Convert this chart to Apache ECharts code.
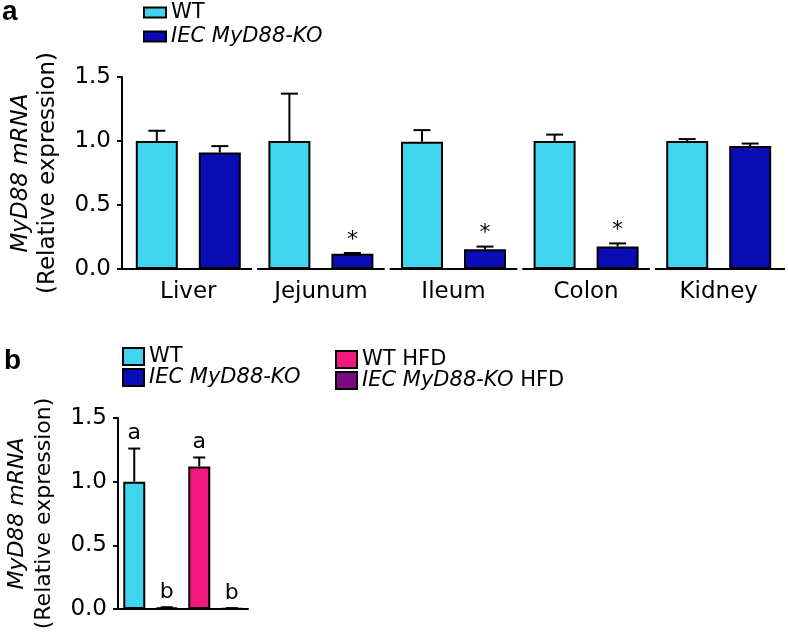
<!DOCTYPE html>
<html><head><meta charset="utf-8">
<script src="https://cdn.jsdelivr.net/npm/echarts@6/dist/echarts.min.js"></script>
<style>html,body{margin:0;padding:0;background:#fff}#c{width:788px;height:636px}</style>
</head><body><div id="c"></div>
<script>
// ---- data ----
const tissues = ['Liver', 'Jejunum', 'Ileum', 'Colon', 'Kidney'];
const wtA = [1.00, 1.00, 0.995, 1.00, 1.00];
const wtErrA = [0.08, 0.37, 0.09, 0.05, 0.015];
const koA = [0.91, 0.12, 0.155, 0.175, 0.96];
const koErrA = [0.05, 0.005, 0.02, 0.025, 0.02];
const sigA = ['', '*', '*', '*', ''];
const groupsB = ['WT', 'IEC MyD88-KO', 'WT HFD', 'IEC MyD88-KO HFD'];
const valuesB = [1.00, 0.01, 1.12, 0.005];
const errB = [0.26, 0.004, 0.07, 0.002];
const lettersB = ['a', 'b', 'a', 'b'];
const yMin = 0, yMax = 1.5, yStep = 0.5;

// ---- style ----
const FONT = '"DejaVu Sans", Verdana, sans-serif';
const FONT_B = '"Liberation Sans", Arial, Helvetica, sans-serif';
const COLORS = {'WT': '#3fd5ee', 'IEC MyD88-KO': '#0a0cb5', 'WT HFD': '#f2187f', 'IEC MyD88-KO HFD': '#7a0a82'};
const BAR_A = 42, GAP_A = 21, BAR_B = 22;

const chart = echarts.init(document.getElementById('c'), null, {renderer: 'canvas'});

function errRenderer(offset, capW, labels, labelFont, labelGap) {
  return function (params, api) {
    const c = api.value(0), v = api.value(1), e = api.value(2);
    const base = api.coord([c, v]);
    const top = api.coord([c, v + e]);
    const x = base[0] + offset;
    const ch = [
      {type: 'line', shape: {x1: x, y1: base[1], x2: x, y2: top[1]}, style: {stroke: '#000', lineWidth: 2}},
      {type: 'line', shape: {x1: x - capW / 2, y1: top[1], x2: x + capW / 2, y2: top[1]}, style: {stroke: '#000', lineWidth: 2}}
    ];
    const t = labels[params.dataIndex];
    if (t) {
      ch.push({type: 'text', x: x, y: top[1] - labelGap, style: {text: t, fill: '#000', font: labelFont, align: 'center', verticalAlign: 'bottom'}});
    }
    return {type: 'group', children: ch};
  };
}

function axisSegRenderer(params, api) {
  const i = api.value(0);
  const p = api.coord([i, 0]);
  const w = api.size([1, 0])[0];
  const n = tissues.length;
  const x1 = i === 0 ? p[0] - w / 2 : p[0] - w / 2 + 2.5;
  const x2 = i === n - 1 ? p[0] + w / 2 : p[0] + w / 2 - 2.5;
  return {type: 'line', shape: {x1: x1, y1: p[1], x2: x2, y2: p[1]}, style: {stroke: '#000', lineWidth: 2}};
}

function yAxisCfg(gridIndex, nameSize) {
  return {
    type: 'value', gridIndex: gridIndex, min: yMin, max: yMax, interval: yStep,
    name: '{i|MyD88 mRNA}\n(Relative expression)', nameLocation: 'middle', nameGap: 60,
    nameTextStyle: {fontSize: nameSize, fontFamily: FONT, color: '#000', lineHeight: 27,
      rich: {i: {fontStyle: 'italic', fontSize: nameSize, fontFamily: FONT, color: '#000', lineHeight: 27}}},
    axisLine: {show: true, lineStyle: {color: '#000', width: 2}},
    axisTick: {show: true, length: 5, lineStyle: {color: '#000', width: 2}},
    axisLabel: {fontSize: 23, fontFamily: FONT, color: '#000', margin: 11, formatter: v => v.toFixed(1)},
    splitLine: {show: false}
  };
}

const legendText = {
  fontSize: 21, fontFamily: FONT, color: '#000',
  rich: {i: {fontStyle: 'italic', fontSize: 21, fontFamily: FONT, color: '#000'}}
};
function legendFmt(name) {
  if (name === 'IEC MyD88-KO') return '{i|IEC MyD88-KO}';
  if (name === 'IEC MyD88-KO HFD') return '{i|IEC MyD88-KO} HFD';
  return name;
}

const seriesB = groupsB.map((g, j) => ({
  name: g, type: 'bar', xAxisIndex: 1, yAxisIndex: 1, stack: 'b', barWidth: BAR_B,
  data: valuesB.map((v, k) => k === j ? v : '-'),
  itemStyle: {color: COLORS[g], borderColor: '#000', borderWidth: 2}
}));

const option = {
  backgroundColor: '#fff',
  animation: false,
  title: [
    {text: 'a', left: 2, top: -2, padding: 0, textStyle: {fontSize: 28, fontWeight: 'bold', fontFamily: FONT_B, color: '#000'}},
    {text: 'b', left: 4, top: 347, padding: 0, textStyle: {fontSize: 28, fontWeight: 'bold', fontFamily: FONT_B, color: '#000'}}
  ],
  legend: [
    {data: ['WT', 'IEC MyD88-KO'], orient: 'vertical', left: 143, top: 2, padding: 0, icon: 'rect',
     itemWidth: 22, itemHeight: 10, itemGap: 3, selectedMode: false, textStyle: legendText, formatter: legendFmt,
     itemStyle: {borderColor: '#000', borderWidth: 2}},
    {data: ['WT', 'IEC MyD88-KO'], orient: 'vertical', left: 122, top: 346, padding: 0, icon: 'rect',
     itemWidth: 21, itemHeight: 17, itemGap: 0, selectedMode: false, textStyle: legendText, formatter: legendFmt,
     itemStyle: {borderColor: '#000', borderWidth: 2}},
    {data: ['WT HFD', 'IEC MyD88-KO HFD'], orient: 'vertical', left: 335, top: 349, padding: 0, icon: 'rect',
     itemWidth: 21, itemHeight: 17, itemGap: 0, selectedMode: false, textStyle: legendText, formatter: legendFmt,
     itemStyle: {borderColor: '#000', borderWidth: 2}}
  ],
  grid: [
    {left: 118, right: 3, top: 77, height: 192, containLabel: false},
    {left: 118, width: 130, top: 418, height: 191, containLabel: false}
  ],
  xAxis: [
    {type: 'category', gridIndex: 0, data: tissues, axisLine: {show: false}, axisTick: {show: false},
     axisLabel: {fontSize: 23, fontFamily: FONT, color: '#000', margin: 12}},
    {type: 'category', gridIndex: 1, data: groupsB, axisLine: {show: true, lineStyle: {color: '#000', width: 2}},
     axisTick: {show: false}, axisLabel: {show: false}}
  ],
  yAxis: [yAxisCfg(0, 23), yAxisCfg(1, 22)],
  series: [
    {name: 'WT', type: 'bar', xAxisIndex: 0, yAxisIndex: 0, data: wtA, barWidth: BAR_A, barGap: (GAP_A / BAR_A * 100) + '%',
     itemStyle: {color: COLORS['WT'], borderColor: '#000', borderWidth: 2}},
    {name: 'IEC MyD88-KO', type: 'bar', xAxisIndex: 0, yAxisIndex: 0, data: koA, barWidth: BAR_A,
     itemStyle: {color: COLORS['IEC MyD88-KO'], borderColor: '#000', borderWidth: 2}},
    {type: 'custom', xAxisIndex: 0, yAxisIndex: 0, z: 5, silent: true,
     data: tissues.map((t, i) => [i, wtA[i], wtErrA[i]]),
     renderItem: errRenderer(-(BAR_A + GAP_A) / 2, 17, tissues.map(() => ''), '22px ' + FONT, 2)},
    {type: 'custom', xAxisIndex: 0, yAxisIndex: 0, z: 5, silent: true,
     data: tissues.map((t, i) => [i, koA[i], koErrA[i]]),
     renderItem: errRenderer((BAR_A + GAP_A) / 2, 17, sigA, '22px ' + FONT, 2)},
    {type: 'custom', xAxisIndex: 0, yAxisIndex: 0, z: 6, silent: true,
     data: tissues.map((t, i) => [i, 0]), renderItem: axisSegRenderer},
    ...seriesB,
    {type: 'custom', xAxisIndex: 1, yAxisIndex: 1, z: 5, silent: true,
     data: groupsB.map((g, i) => [i, valuesB[i], errB[i]]),
     renderItem: errRenderer(0, 12, lettersB, '22px ' + FONT, 4)}
  ]
};
chart.setOption(option);
</script>
</body></html>
